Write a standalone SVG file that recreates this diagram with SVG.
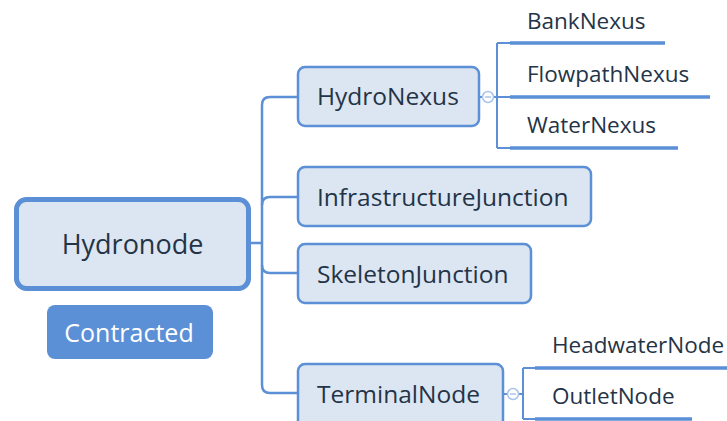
<svg xmlns="http://www.w3.org/2000/svg" width="727" height="421" viewBox="0 0 727 421">
<style>
.box{fill:#dce6f2;stroke:#5b8fd6;stroke-width:2.5}
.t{font-family:"Open Sans","Noto Sans",sans-serif;fill:#243447}
.c{fill:none;stroke:#5b8fd6;stroke-width:2.5}
.u{fill:none;stroke:#5b8fd6;stroke-width:3.5}
.thin{fill:none;stroke:#5b8fd6;stroke-width:2}
.col{fill:#fff;stroke:#a9c3ea;stroke-width:1.5}
</style>
<rect width="727" height="421" fill="#fff"/>
<g id="connectors">
<path class="c" d="M251 243H262"/>
<path class="c" d="M298 97H270Q262 97 262 105V385Q262 393 270 393H298"/>
<path class="c" d="M262 205Q262 197 270 197H298"/>
<path class="c" d="M262 265Q262 273 270 273H298"/>
<path class="thin" d="M479 97H497M497 43V148M497 43H510M497 97H510M497 148H510"/>
<path class="u" d="M510 43H665M510 97H710M510 148H678"/>
<circle class="col" cx="488" cy="97" r="5.5"/>
<path d="M485 97H491" stroke="#a9c3ea" stroke-width="1.5"/>
<path class="thin" d="M503 394H523M523 368V419M523 368H535M523 419H535"/>
<path class="u" d="M535 368H727M535 419H692"/>
<circle class="col" cx="513" cy="394" r="5.5"/>
<path d="M510 394H516" stroke="#a9c3ea" stroke-width="1.5"/>
</g>
<g id="hydronode">
<rect x="16.5" y="199.5" width="232" height="89" rx="10" fill="#dce6f2" stroke="#5b8fd6" stroke-width="5"/>
<text class="t" x="132.5" y="254" font-size="27" text-anchor="middle">Hydronode</text>
</g>
<g id="contracted">
<rect x="47" y="305" width="166" height="54" rx="8" fill="#5b8fd6"/>
<text x="129" y="342" font-size="25" text-anchor="middle" font-family="Open Sans, Noto Sans, sans-serif" fill="#fff">Contracted</text>
</g>
<g id="hydronexus">
<rect class="box" x="298" y="67" width="181" height="59" rx="7"/>
<text class="t" x="317" y="105" font-size="24.5">HydroNexus</text>
</g>
<g id="infrastructurejunction">
<rect class="box" x="298" y="167" width="293" height="59" rx="7"/>
<text class="t" x="317" y="206" font-size="24.5">InfrastructureJunction</text>
</g>
<g id="skeletonjunction">
<rect class="box" x="298" y="244" width="233" height="59" rx="7"/>
<text class="t" x="317" y="283" font-size="24.5">SkeletonJunction</text>
</g>
<g id="terminalnode">
<rect class="box" x="298" y="364" width="205" height="70" rx="7"/>
<text class="t" x="317" y="403" font-size="24.5">TerminalNode</text>
</g>
<g id="banknexus"><text class="t" x="527" y="29" font-size="22.5">BankNexus</text></g>
<g id="flowpathnexus"><text class="t" x="527" y="82" font-size="22.5">FlowpathNexus</text></g>
<g id="waternexus"><text class="t" x="527" y="133" font-size="22.5">WaterNexus</text></g>
<g id="headwaternode"><text class="t" x="552" y="353" font-size="22.5">HeadwaterNode</text></g>
<g id="outletnode"><text class="t" x="552" y="404" font-size="22.5">OutletNode</text></g>
</svg>
